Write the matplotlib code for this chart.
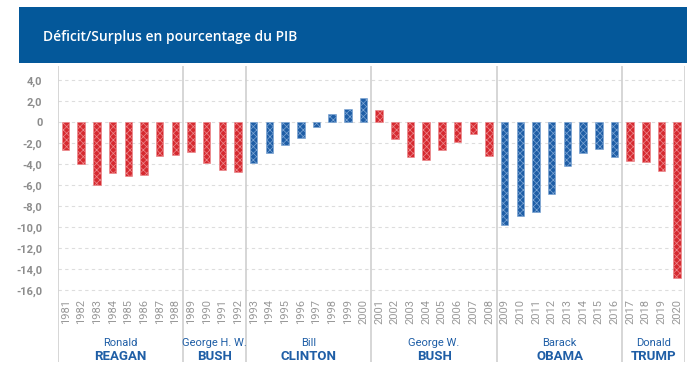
import numpy as np
import matplotlib
matplotlib.use('Agg')
import matplotlib.pyplot as plt
from matplotlib.patches import Rectangle

plt.rcParams['font.family'] = ['Roboto', 'DejaVu Sans']
plt.rcParams['hatch.linewidth'] = 0.5

# data
years = list(range(1981, 2021))
deficit = [-2.6, -4.0, -6.0, -4.8, -5.1, -5.0, -3.2, -3.1,
           -2.8, -3.9, -4.5, -4.7,
           -3.9, -2.9, -2.2, -1.5, -0.4, 0.8, 1.3, 2.3,
           1.2, -1.6, -3.3, -3.6, -2.6, -1.9, -1.1, -3.2,
           -9.8, -8.9, -8.5, -6.8, -4.2, -2.9, -2.5, -3.3,
           -3.7, -3.8, -4.6, -14.8]
first_names = ['Ronald', 'George H. W.', 'Bill', 'George W.', 'Barack', 'Donald']
last_names = ['REAGAN', 'BUSH', 'CLINTON', 'BUSH', 'OBAMA', 'TRUMP']
term_start = [1981, 1989, 1993, 2001, 2009, 2017]
term_end = [1988, 1992, 2000, 2008, 2016, 2020]
party = ['R', 'R', 'D', 'R', 'D', 'R']
yticks = [4, 2, 0, -2, -4, -6, -8, -10, -12, -14, -16]

red = '#d62a30'
blue = '#1f5ea6'
red_light = '#ec8a8e'
blue_light = '#7ea6d4'
header_blue = '#04589a'

fig = plt.figure(figsize=(7, 3.75), dpi=100)

# header band
fig.patches.append(Rectangle((19.3 / 700, 1 - 62.7 / 375), (687 - 19.3) / 700, (62.7 - 7.3) / 375,
                             transform=fig.transFigure, facecolor=header_blue, edgecolor='none', zorder=0))
fig.text(42.7 / 700, 1 - 36.5 / 375, 'Déficit/Surplus en pourcentage du PIB', color='white',
         fontsize=10, fontweight='semibold', family=['Open Sans', 'DejaVu Sans'], va='center', ha='left')

ax = fig.add_axes([57.7 / 700, 1 - 362 / 375, (685 - 57.7) / 700, (362 - 66) / 375])
ax.set_xlim(1980.5, 2020.5)
ax.set_ylim((122.3 - 362) / 10.5, (122.3 - 66) / 10.5)
for s in ax.spines.values():
    s.set_visible(False)

# grid lines
for v in yticks:
    ax.plot([1980.5, 2020.5], [v, v], color='#dddddd', lw=0.8, ls=(0, (3, 3)), zorder=1)

# bars coloured by president's party
for i in range(len(first_names)):
    ys = [y for y in years if term_start[i] <= y <= term_end[i]]
    vals = [deficit[years.index(y)] for y in ys]
    fc = red if party[i] == 'R' else blue
    ec = red_light if party[i] == 'R' else blue_light
    ax.bar(ys, vals, width=0.48, color=fc, edgecolor=ec, lw=0.4, hatch='xxxxx', zorder=2)

    # separators
    ax.axvline(term_start[i] - 0.5, color='#cfcfcf', lw=1.2, zorder=1)
    mid = (term_start[i] + term_end[i]) / 2
    ax.text(mid, (122.3 - 343) / 10.5, first_names[i], ha='center', va='center',
            color=blue, fontsize=8)
    ax.text(mid, (122.3 - 357) / 10.5, last_names[i], ha='center', va='center',
            color=blue, fontsize=9.5, fontweight='bold')
ax.axvline(2020.5, color='#cfcfcf', lw=1.2, zorder=1)

# year labels
for y in years:
    ax.text(y, (122.3 - 299) / 10.5, str(y), rotation=90, ha='center', va='top',
            color='#999999', fontsize=8)

ax.set_xticks([])
ax.set_yticks(yticks)
ax.set_yticklabels([('%.1f' % v).replace('.', ',') if v != 0 else '0' for v in yticks])
ax.tick_params(axis='y', length=0, pad=11, labelcolor='#8c8c8c', labelsize=8)
for lab in ax.get_yticklabels():
    lab.set_fontweight('bold')

fig.savefig('out.png', dpi=100)
